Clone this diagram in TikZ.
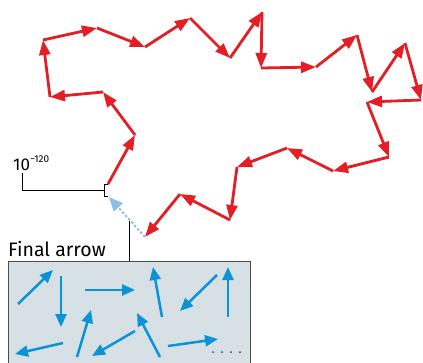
\documentclass[tikz,border=0pt]{standalone}
\usepackage{fontspec}
\setmainfont{Fira Sans}
\usepackage{tikz}
\usetikzlibrary{positioning}
\usetikzlibrary{arrows.meta}

\definecolor{walkred}{HTML}{E31E25}
\definecolor{stepblue}{HTML}{0A93D6}
\definecolor{lastblue}{HTML}{8EBDE8}
\definecolor{boxfill}{HTML}{D6E0E5}
\definecolor{boxline}{HTML}{4D4D4D}

\tikzset{
	walk/.style={draw=walkred, line width=2.8pt, -{Triangle[length=15pt,width=11pt]},
		preaction={draw=black!40, transform canvas={shift={(0.7pt,-0.7pt)}}}},
	arrowbox/.style={draw=stepblue, line width=2.5pt, -{Triangle[length=13pt,width=11pt]}},
	finalstep/.style={draw=lastblue, line width=2pt, dash pattern=on 2.5pt off 2pt,
		-{Triangle[length=14pt,width=12pt,fill=lastblue]}},
	pointer/.style={draw=black, line width=0.8pt},
}

\begin{document}
\begin{tikzpicture}[x=1pt,y=-1pt]
					\useasboundingbox (0,0) rectangle (423,362);

					%Box of arrows
					\fill[boxfill, draw=boxline, line width=1pt] (8,261) rectangle (250,370);

					%Nodes
					\node[anchor=base west, inner sep=0pt, font=\fontsize{17}{20}\selectfont] (power) at (13,170) {10\raisebox{0.45em}{\fontsize{10}{12}\selectfont −120}};
					\node[anchor=base west, inner sep=0pt, font=\fontsize{19.5}{22}\selectfont] (final) at (8,256) {Final arrow};

					\coordinate      (w0)  at (108,184);
					\coordinate      (w1)  at (135,135);
					\coordinate      (w2)  at (103,92);
					\coordinate      (w3)  at (50,97);
					\coordinate      (w4)  at (43,40);
					\coordinate      (w5)  at (97,28);
					\coordinate      (w6)  at (145,47);
					\coordinate      (w7)  at (190,18);
					\coordinate      (w8)  at (230,58);
					\coordinate      (w9)  at (262,12);
					\coordinate      (w10) at (261,68);
					\coordinate      (w11) at (316,67);
					\coordinate      (w12) at (357,35);
					\coordinate      (w13) at (372,92);
					\coordinate      (w14) at (405,43);
					\coordinate      (w15) at (421,100);
					\coordinate      (w16) at (367,102);
					\coordinate      (w17) at (389,157);
					\coordinate      (w18) at (333,171);
					\coordinate      (w19) at (287,148);
					\coordinate      (w20) at (237,167);
					\coordinate      (w21) at (230,220);
					\coordinate      (w22) at (180,194);
					\coordinate      (w23) at (145,237);
					\coordinate      (end) at (109,197);

					\coordinate      (b1)  at (18,304);
					\coordinate      (e1)  at (53,270);
					\coordinate      (b2)  at (61,276);
					\coordinate      (e2)  at (61,327);
					\coordinate      (b3)  at (85,290);
					\coordinate      (e3)  at (135,290);
					\coordinate      (b4)  at (162,317);
					\coordinate      (e4)  at (153,267);
					\coordinate      (b5)  at (217,275);
					\coordinate      (e5)  at (180,311);
					\coordinate      (b6)  at (228,317);
					\coordinate      (e6)  at (228,267);
					\coordinate      (b7)  at (63,343);
					\coordinate      (e7)  at (15,354);
					\coordinate      (b8)  at (77,357);
					\coordinate      (e8)  at (91,310);
					\coordinate      (b9)  at (135,331);
					\coordinate      (e9)  at (92,356);
					\coordinate      (b10) at (160,357);
					\coordinate      (e10) at (137,313);
					\coordinate      (b11) at (168,346);
					\coordinate      (e11) at (218,339);

					%Lines
					\draw[pointer] (22,173) |- (104,190);
					\draw[pointer] (108,184) -- (104,184) -- (104,196) -- (108,196);
					\draw[pointer] (129,221) -- (129,261);

					\draw[walk] (w0) -- (w1);
					\draw[walk] (w1) -- (w2);
					\draw[walk] (w2) -- (w3);
					\draw[walk] (w3) -- (w4);
					\draw[walk] (w4) -- (w5);
					\draw[walk] (w5) -- (w6);
					\draw[walk] (w6) -- (w7);
					\draw[walk] (w7) -- (w8);
					\draw[walk] (w8) -- (w9);
					\draw[walk] (w9) -- (w10);
					\draw[walk] (w10) -- (w11);
					\draw[walk] (w11) -- (w12);
					\draw[walk] (w12) -- (w13);
					\draw[walk] (w13) -- (w14);
					\draw[walk] (w14) -- (w15);
					\draw[walk] (w15) -- (w16);
					\draw[walk] (w16) -- (w17);
					\draw[walk] (w17) -- (w18);
					\draw[walk] (w18) -- (w19);
					\draw[walk] (w19) -- (w20);
					\draw[walk] (w20) -- (w21);
					\draw[walk] (w21) -- (w22);
					\draw[walk] (w22) -- (w23);
					\draw[finalstep] (w23) -- (end);

					\draw[arrowbox] (b1) -- (e1);
					\draw[arrowbox] (b2) -- (e2);
					\draw[arrowbox] (b3) -- (e3);
					\draw[arrowbox] (b4) -- (e4);
					\draw[arrowbox] (b5) -- (e5);
					\draw[arrowbox] (b6) -- (e6);
					\draw[arrowbox] (b7) -- (e7);
					\draw[arrowbox] (b8) -- (e8);
					\draw[arrowbox] (b9) -- (e9);
					\draw[arrowbox] (b10) -- (e10);
					\draw[arrowbox] (b11) -- (e11);

					\foreach \x in {213,222,231,240}
						\fill[black!75] (\x,352) circle (1pt);

\end{tikzpicture}
\end{document}
